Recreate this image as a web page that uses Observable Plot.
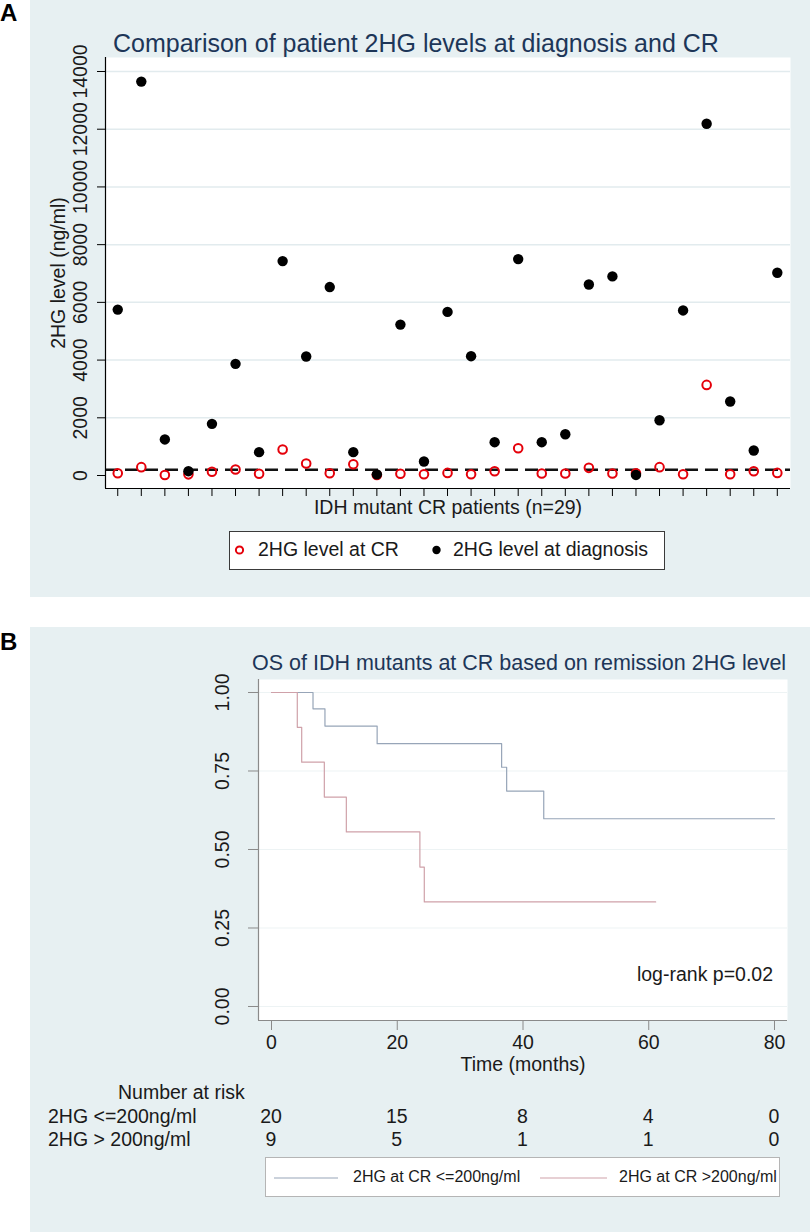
<!DOCTYPE html>
<html>
<head>
<meta charset="utf-8">
<script src="https://cdn.jsdelivr.net/npm/d3@7"></script>
<script src="https://cdn.jsdelivr.net/npm/@observablehq/plot@0.6"></script>
<style>
  html, body { margin: 0; padding: 0; background: #ffffff; }
  #root { position: relative; width: 810px; height: 1232px; overflow: hidden; font-family: "Liberation Sans", Arial, sans-serif; color: #1a1a1a; }
  .abs { position: absolute; white-space: nowrap; line-height: 1; }
  .panel { position: absolute; background: #e7f0f2; }
  .plotwrap { position: absolute; left: 0; }
  .plotwrap svg { overflow: visible; }
</style>
</head>
<body>
<div id="root"></div>
<script>
// ---------- DATA ----------
// Panel A: 29 IDH mutant CR patients
const patients = [1,2,3,4,5,6,7,8,9,10,11,12,13,14,15,16,17,18,19,20,21,22,23,24,25,26,27,28,29];
const diagnosisLevels = [5750,13650,1250,150,1790,3870,810,7430,4125,6530,810,40,5230,485,5670,4135,1155,7500,1155,1430,6620,6900,20,1915,5720,12190,2565,865,7025];
const crLevels = [80,290,20,40,130,210,60,900,415,80,390,20,60,45,90,45,150,945,70,70,265,70,80,290,45,3140,45,150,90];
const thresholdLevel = [200];
const yTicksA = [0,2000,4000,6000,8000,10000,12000,14000];
const titleA = "Comparison of patient 2HG levels at diagnosis and CR";
const xLabelA = "IDH mutant CR patients (n=29)";
const yLabelA = "2HG level (ng/ml)";
const legendA = ["2HG level at CR", "2HG level at diagnosis"];

// Panel B: Kaplan-Meier overall survival
const kmLowTimes = [0, 6.6, 8.5, 16.8, 36.6, 37.4, 43.3, 80];
const kmLowSurv  = [1, 0.948, 0.893, 0.837, 0.762, 0.686, 0.598, 0.598];
const kmHighTimes = [0, 4.1, 4.8, 8.4, 11.9, 23.6, 24.3, 61.1];
const kmHighSurv  = [1, 0.889, 0.778, 0.667, 0.556, 0.444, 0.333, 0.333];
const groupNames = ["2HG at CR <=200ng/ml", "2HG at CR >200ng/ml"];
const xTicksB = [0, 20, 40, 60, 80];
const yTicksB = [0, 0.25, 0.5, 0.75, 1];
const riskLow = [20, 15, 8, 4, 0];
const riskHigh = [9, 5, 1, 1, 0];
const riskRowLabels = ["2HG <=200ng/ml", "2HG > 200ng/ml"];
const titleB = "OS of IDH mutants at CR based on remission 2HG level";
const xLabelB = "Time (months)";
const pValueText = "log-rank p=0.02";

// ---------- STYLE ----------
const FONT = "'Liberation Sans', Arial, sans-serif";
const NAVY = "#1d3658";
const RED = "#e5000a";
const LOWC = "#97a5b8";
const HIGHC = "#cfa1a9";

const root = document.getElementById("root");
function div(cls, css, text) {
  const d = document.createElement("div");
  d.className = cls;
  Object.assign(d.style, css);
  if (text != null) d.textContent = text;
  root.appendChild(d);
  return d;
}
// text placed by baseline
function label(text, x, baseline, size, opts = {}) {
  const d = div("abs", {
    top: (baseline - 0.8465 * size) + "px",
    fontSize: size + "px",
    color: opts.color || "#1a1a1a",
    fontWeight: opts.weight || "normal"
  }, text);
  if (opts.anchor === "middle") { d.style.left = x + "px"; d.style.transform = "translateX(-50%)"; }
  else if (opts.anchor === "end") { d.style.right = (810 - x) + "px"; }
  else d.style.left = x + "px";
  return d;
}

// panels
div("panel", {left: "30px", top: "0px", width: "780px", height: "597px"});
div("panel", {left: "30px", top: "627px", width: "780px", height: "605px"});
label("A", 0, 21, 24, {weight: "bold", color: "#000"});
label("B", 0, 650, 24, {weight: "bold", color: "#000"});

// ---------- PANEL A ----------
const rowsA = patients.map((p, i) => ({patient: p, diagnosis: diagnosisLevels[i], cr: crLevels[i]}));
const xDomA = [0.48, 29.56];
const yDomA = [-450, 14485];
const chartA = Plot.plot({
  width: 810, height: 530,
  marginLeft: 105, marginRight: 20, marginTop: 57, marginBottom: 42,
  style: {background: "transparent", fontFamily: FONT, fontSize: "19.5px", color: "#1a1a1a"},
  x: {domain: xDomA},
  y: {domain: yDomA},
  marks: [
    Plot.frame({fill: "white", stroke: null}),
    Plot.gridY(yTicksA.slice(1), {stroke: "#e2ebee", strokeOpacity: 1, strokeWidth: 1.5}),
    Plot.ruleY(thresholdLevel, {stroke: "#111", strokeWidth: 2.5, strokeDasharray: "13,7"}),
    Plot.dot(rowsA, {x: "patient", y: "cr", r: 4.3, stroke: RED, strokeWidth: 2, fill: "none"}),
    Plot.dot(rowsA, {x: "patient", y: "diagnosis", r: 5.2, fill: "#000", stroke: null}),
    Plot.axisY(yTicksA, {tickSize: 8, tickRotate: -90, tickPadding: 11, stroke: "#000",
      tickFormat: d => String(d),
      label: yLabelA, labelAnchor: "center", labelArrow: "none", labelOffset: 54}),
    Plot.axisX(patients, {tickSize: 8, tickFormat: () => "", stroke: "#000",
      label: xLabelA, labelAnchor: "center", labelArrow: "none", labelOffset: 25}),
    Plot.ruleX([xDomA[0]], {stroke: "#000", strokeWidth: 1.2}),
    Plot.ruleY([yDomA[0]], {stroke: "#000", strokeWidth: 1.2})
  ]
});
const wrapA = div("plotwrap", {top: "0px"});
wrapA.appendChild(chartA);

label(titleA, 113, 52, 25, {color: NAVY});

// legend A
div("abs", {left: "229px", top: "531px", width: "434px", height: "37px", background: "#fff", border: "1px solid #3a3a3a"});
const legSvgA = d3.create("svg").attr("width", 810).attr("height", 30)
  .style("position", "absolute").style("left", "0px").style("top", "535px");
legSvgA.append("circle").attr("cx", 239.5).attr("cy", 15).attr("r", 3.6).attr("fill", "none").attr("stroke", RED).attr("stroke-width", 2);
legSvgA.append("circle").attr("cx", 436.5).attr("cy", 15).attr("r", 4.2).attr("fill", "#000");
root.appendChild(legSvgA.node());
label(legendA[0], 258, 557, 19.5);
label(legendA[1], 453, 557, 19.5);

// ---------- PANEL B ----------
const kmRows = [
  ...kmLowTimes.map((t, i) => ({time: t, surv: kmLowSurv[i], group: groupNames[0]})),
  ...kmHighTimes.map((t, i) => ({time: t, surv: kmHighSurv[i], group: groupNames[1]}))
];
const xDomB = [-2.07, 82.07];
const yDomB = [-0.0446, 1.0414];
const chartB = Plot.plot({
  width: 810, height: 605,
  marginLeft: 258, marginRight: 23, marginTop: 52, marginBottom: 212,
  style: {background: "transparent", fontFamily: FONT, fontSize: "19.5px", color: "#1a1a1a"},
  x: {domain: xDomB},
  y: {domain: yDomB},
  color: {domain: groupNames, range: [LOWC, HIGHC]},
  marks: [
    Plot.frame({fill: "white", stroke: null}),
    Plot.gridY(yTicksB, {stroke: "#edf3f4", strokeOpacity: 1, strokeWidth: 1}),
    Plot.line(kmRows, {x: "time", y: "surv", z: "group", stroke: "group", curve: "step-after", strokeWidth: 1.2}),
    Plot.axisY(yTicksB, {tickSize: 10, tickRotate: -90, tickPadding: 20, stroke: "#8a8a8a",
      tickFormat: d3.format(".2f"), label: null}),
    Plot.axisX(xTicksB, {tickSize: 10, tickPadding: 5, stroke: "#8a8a8a",
      label: xLabelB, labelAnchor: "center", labelArrow: "none", labelOffset: 50}),
    Plot.ruleX([xDomB[0]], {stroke: "#8a8a8a", strokeWidth: 1.2}),
    Plot.ruleY([yDomB[0]], {stroke: "#8a8a8a", strokeWidth: 1.2})
  ]
});
const wrapB = div("plotwrap", {top: "627px"});
wrapB.appendChild(chartB);

label(titleB, 252, 671, 21.5, {color: NAVY});
label(pValueText, 773, 982, 19.5, {anchor: "end"});

// number at risk table
const sx = chartB.scale("x");
label("Number at risk", 118, 1100, 19.5);
label(riskRowLabels[0], 48, 1124, 19.5);
label(riskRowLabels[1], 48, 1147, 19.5);
xTicksB.forEach((t, i) => {
  const px = sx.apply(t);
  label(String(riskLow[i]), px, 1124, 19.5, {anchor: "middle"});
  label(String(riskHigh[i]), px, 1147, 19.5, {anchor: "middle"});
});

// legend B
div("abs", {left: "265px", top: "1157px", width: "513px", height: "38px", background: "#fff", border: "1px solid #b5b5b5"});
const legSvgB = d3.create("svg").attr("width", 810).attr("height", 20)
  .style("position", "absolute").style("left", "0px").style("top", "1168px");
legSvgB.append("line").attr("x1", 274).attr("x2", 338).attr("y1", 10).attr("y2", 10).attr("stroke", LOWC).attr("stroke-width", 1);
legSvgB.append("line").attr("x1", 540).attr("x2", 607).attr("y1", 10).attr("y2", 10).attr("stroke", HIGHC).attr("stroke-width", 1);
root.appendChild(legSvgB.node());
label(groupNames[0], 353, 1183, 16);
label(groupNames[1], 619, 1183, 16);
</script>
</body>
</html>
